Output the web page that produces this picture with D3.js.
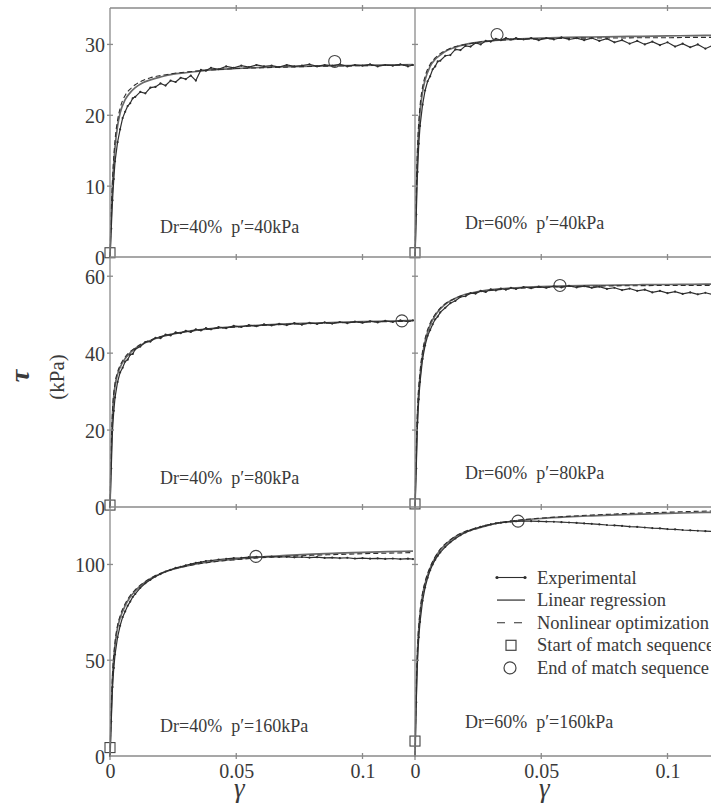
<!DOCTYPE html>
<html>
<head>
<meta charset="utf-8">
<script src="https://cdn.jsdelivr.net/npm/d3@7"></script>
<style>
  html, body { margin: 0; padding: 0; background: #fff; }
  svg { display: block; }
  text { font-family: "Liberation Serif", "Times New Roman", serif; fill: #3a3a3a; }
</style>
</head>
<body>
<script>
// ---- shear strain grid for the fitted curves ----
const fitGamma = [0, 0.0005, 0.001, 0.002, 0.003, 0.004, 0.006, 0.008, 0.01, 0.013, 0.016, 0.02,
  0.025, 0.03, 0.04, 0.05, 0.06, 0.07, 0.08, 0.09, 0.1, 0.11, 0.12];

// ---- shear strain grid for the measured curves ----
const expGamma = [0, 0.0005, 0.001, 0.0015, 0.002, 0.003, 0.004, 0.005, 0.006, 0.007, 0.008, 0.009, 0.010,
  0.012, 0.014, 0.016, 0.018, 0.020, 0.022, 0.024, 0.026, 0.028, 0.030, 0.032, 0.034, 0.036, 0.038, 0.040,
  0.043, 0.046, 0.049, 0.052, 0.055, 0.058, 0.061, 0.064, 0.067, 0.070, 0.073, 0.076, 0.079, 0.082, 0.085,
  0.088, 0.091, 0.094, 0.097, 0.100, 0.103, 0.106, 0.109, 0.112, 0.115, 0.118, 0.120];

// ---- Dr=40%, p'=40kPa ----
const expTauA = [0, 4, 8, 11, 13.5, 16.2, 18.0, 19.6, 20.5, 21.3, 21.7, 22.4, 22.6,
  23.3, 23.1, 23.9, 24.0, 24.5, 24.2, 24.9, 24.7, 25.3, 25.1, 25.6, 24.9, 26.4, 26.3, 26.7,
  26.5, 26.9, 26.7, 27.0, 26.8, 27.1, 26.9, 27.0, 26.8, 27.1, 26.9, 27.0, 27.2, 26.9, 27.1,
  27.0, 27.2, 26.9, 27.1, 27.0, 27.2, 26.9, 27.1, 27.0, 27.2, 26.9, 27.1];
const linTauA = [0, 6, 10, 15.5, 18.5, 20.3, 22.2, 23.2, 23.9, 24.6, 25.0, 25.4, 25.8, 26.0, 26.4, 26.6,
  26.75, 26.85, 26.95, 27.0, 27.05, 27.1, 27.15];
const nlTauA = [0, 6.5, 11, 16.5, 19.3, 21.0, 22.8, 23.7, 24.3, 24.9, 25.3, 25.6, 25.9, 26.1, 26.4, 26.6,
  26.7, 26.8, 26.9, 26.95, 27.0, 27.05, 27.1];

// ---- Dr=60%, p'=40kPa ----
const expTauB = [0, 6, 12, 16, 18.5, 21.5, 23.5, 24.8, 25.5, 26.5, 26.9, 27.6, 27.7,
  28.4, 28.5, 29.3, 29.2, 29.8, 29.7, 30.2, 30.0, 30.5, 30.4, 30.8, 30.6, 30.9, 30.7, 30.9,
  30.7, 30.9, 30.6, 30.9, 30.7, 31.0, 30.7, 30.9, 30.6, 30.9, 30.5, 30.8, 30.3, 30.6, 30.1,
  30.5, 30.0, 30.4, 29.9, 30.3, 29.7, 30.1, 29.6, 30.0, 29.4, 29.9, 29.5];
const linTauB = [0, 9, 14.5, 20.5, 23.3, 25.0, 26.9, 27.9, 28.5, 29.2, 29.6, 30.0, 30.3, 30.5, 30.75,
  30.9, 31.0, 31.05, 31.1, 31.15, 31.2, 31.25, 31.3];
const nlTauB = [0, 9.5, 15.5, 21.3, 24.0, 25.5, 27.2, 28.1, 28.7, 29.3, 29.7, 30.0, 30.3, 30.5, 30.7,
  30.8, 30.85, 30.9, 30.9, 30.95, 30.95, 31.0, 31.0];

// ---- Dr=40%, p'=80kPa ----
const expTauC = [0, 10, 20, 25, 28.5, 32.5, 35.0, 36.2, 37.8, 38.3, 39.6, 39.8, 41.0,
  41.7, 42.9, 43.0, 44.0, 43.9, 44.8, 44.6, 45.4, 45.2, 45.8, 45.5, 46.2, 45.9, 46.5, 46.2,
  46.8, 46.5, 47.1, 46.8, 47.3, 47.0, 47.5, 47.2, 47.6, 47.3, 47.8, 47.4, 47.9, 47.6, 48.0,
  47.7, 48.1, 47.8, 48.2, 47.9, 48.3, 48.0, 48.4, 48.1, 48.5, 48.2, 48.5];
const linTauC = [0, 15, 24, 31.5, 34.5, 36.3, 38.6, 40.1, 41.2, 42.4, 43.3, 44.2, 45.0, 45.6, 46.4,
  46.9, 47.3, 47.6, 47.8, 48.0, 48.2, 48.35, 48.5];
const nlTauC = [0, 16, 25, 32.2, 35.1, 36.8, 39.0, 40.4, 41.4, 42.6, 43.4, 44.3, 45.0, 45.6, 46.3,
  46.8, 47.2, 47.5, 47.7, 47.9, 48.1, 48.2, 48.3];

// ---- Dr=60%, p'=80kPa ----
const expTauD = [0, 10, 22, 28, 32.5, 38.5, 42.0, 44.5, 46.0, 47.5, 48.8, 49.5, 50.6,
  51.8, 53.0, 53.6, 54.6, 54.8, 55.6, 55.5, 56.2, 55.9, 56.6, 56.3, 56.8, 56.5, 57.0, 56.7,
  57.2, 56.9, 57.3, 57.0, 57.4, 57.1, 57.5, 57.1, 57.4, 57.0, 57.3, 56.7, 57.0, 56.4, 56.8,
  56.2, 56.5, 55.8, 56.2, 55.6, 56.0, 55.4, 55.8, 55.3, 55.7, 55.2, 55.5];
const linTauD = [0, 14, 24, 34, 39.5, 43, 47.3, 49.8, 51.5, 53.2, 54.3, 55.3, 56.0, 56.5, 57.0,
  57.3, 57.5, 57.6, 57.7, 57.8, 57.85, 57.9, 57.95];
const nlTauD = [0, 15, 25.5, 35.2, 40.5, 43.8, 47.8, 50.1, 51.7, 53.3, 54.3, 55.2, 55.9, 56.3, 56.8,
  57.1, 57.3, 57.4, 57.5, 57.55, 57.6, 57.6, 57.65];

// ---- Dr=40%, p'=160kPa ----
const expTauE = [0, 18, 36, 46, 53, 62, 68, 72.5, 75.5, 78.4, 80.6, 83.0, 84.6,
  87.8, 90.2, 92.0, 93.7, 95.0, 96.3, 97.2, 98.2, 98.8, 99.6, 100.2, 100.8, 101.2, 101.8, 102.0,
  102.6, 102.9, 103.3, 103.5, 103.8, 104.0, 103.9, 104.1, 103.9, 104.0, 103.7, 103.9, 103.6, 103.8,
  103.4, 103.6, 103.3, 103.5, 103.1, 103.3, 103.0, 103.2, 102.9, 103.1, 102.8, 103.0, 102.8];
const linTauE = [0, 24, 41, 58, 67, 72, 78.5, 83.0, 86.2, 89.8, 92.5, 95.2, 97.5, 99.1, 101.4,
  102.8, 103.9, 104.7, 105.4, 105.9, 106.3, 106.7, 107.0];
const nlTauE = [0, 25, 42.5, 59.5, 68.3, 73.2, 79.5, 83.8, 86.8, 90.2, 92.8, 95.4, 97.6, 99.1, 101.2,
  102.5, 103.5, 104.2, 104.8, 105.2, 105.6, 105.9, 106.2];

// ---- Dr=60%, p'=160kPa ----
const expTauF = [0, 28, 50, 62, 70, 81, 88, 93, 97, 100, 102.5, 104.5, 106.3,
  109.2, 111.6, 113.6, 115.3, 116.7, 117.8, 118.8, 119.6, 120.3, 120.9, 121.4, 121.8, 122.1, 122.4, 122.5,
  122.6, 122.6, 122.5, 122.4, 122.3, 122.1, 121.9, 121.7, 121.4, 121.2, 120.9, 120.6, 120.4, 120.1,
  119.8, 119.6, 119.3, 119.0, 118.8, 118.5, 118.3, 118.0, 117.8, 117.6, 117.4, 117.2, 117.1];
const linTauF = [0, 35, 55, 74, 84, 90, 98, 103.5, 107.5, 111.5, 114.5, 117.0, 119.0, 120.8, 122.8,
  124.0, 124.8, 125.4, 125.9, 126.3, 126.7, 127.0, 127.3];
const nlTauF = [0, 36, 56.5, 75.5, 85.2, 91, 98.7, 104.0, 108.0, 111.9, 114.8, 117.3, 119.3, 121.0,
  123.0, 124.2, 125.1, 125.8, 126.4, 126.9, 127.3, 127.7, 128.0];

// ---- match sequence start / end points [gamma, tau] ----
const startPoints = [[0, 0.6], [0, 0.6], [0, 0.5], [0, 0.8], [0, 4.4], [0, 7.8]];
const endPoints = [[0.089, 27.6], [0.0325, 31.4], [0.1156, 48.4], [0.0574, 57.6], [0.0578, 104.2], [0.0408, 122.6]];

// ---- panel captions and axis ticks ----
const densities = ["Dr=40%", "Dr=60%"];
const pressures = ["p\u2032=40kPa", "p\u2032=80kPa", "p\u2032=160kPa"];
const rowTauMax = [35, 65, 130];
const rowTicks = [[0, 10, 20, 30], [0, 20, 40, 60], [0, 50, 100]];
const xTicks = [0, 0.05, 0.1];
const xTickLabels = ["0", "0.05", "0.1"];
const legendLabels = ["Experimental", "Linear regression", "Nonlinear optimization",
  "Start of match sequence", "End of match sequence"];

// ---- layout ----
const W = 711, H = 811;
const colX = [[110, 413], [415, 718]];
const rowY = [[257, 9], [507, 257], [756, 507]];
const frameTop = 8, leftX = 110, midX = 415, rightEdge = W;
const axisColor = "#8a8a8a";
const lineColor = "#2e2e2e";
const markColor = "#444";

const svg = d3.select("body").append("svg").attr("width", W).attr("height", H);
svg.append("rect").attr("width", W).attr("height", H).attr("fill", "#fff");

const panelData = [
  { exp: expTauA, lin: linTauA, nl: nlTauA },
  { exp: expTauB, lin: linTauB, nl: nlTauB },
  { exp: expTauC, lin: linTauC, nl: nlTauC },
  { exp: expTauD, lin: linTauD, nl: nlTauD },
  { exp: expTauE, lin: linTauE, nl: nlTauE },
  { exp: expTauF, lin: linTauF, nl: nlTauF }
];

const xScales = colX.map(r => d3.scaleLinear().domain([0, 0.12]).range(r));
const yScales = rowY.map((r, i) => d3.scaleLinear().domain([0, rowTauMax[i]]).range(r));

const defs = svg.append("defs");
const labelBase = [[233, 229], [484, 479], [732, 728]];

panelData.forEach((p, k) => {
  const row = Math.floor(k / 2), col = k % 2;
  const x = xScales[col], y = yScales[row];
  const clipId = "clip" + k;
  defs.append("clipPath").attr("id", clipId).append("rect")
    .attr("x", colX[col][0] - 2).attr("y", rowY[row][1] - 2)
    .attr("width", colX[col][1] - colX[col][0] + 4)
    .attr("height", rowY[row][0] - rowY[row][1] + 4);
  const g = svg.append("g").attr("clip-path", `url(#${clipId})`);

  const fitLine = d3.line().x((d, i) => x(fitGamma[i])).y(d => y(d)).curve(d3.curveMonotoneX);
  const expLine = d3.line().x((d, i) => x(expGamma[i])).y(d => y(d));

  g.append("path").attr("d", fitLine(p.lin)).attr("fill", "none")
    .attr("stroke", "#6a6a6a").attr("stroke-width", 1.7);
  g.append("path").attr("d", fitLine(p.nl)).attr("fill", "none")
    .attr("stroke", lineColor).attr("stroke-width", 1.1).attr("stroke-dasharray", "5,3");
  g.append("path").attr("d", expLine(p.exp)).attr("fill", "none")
    .attr("stroke", lineColor).attr("stroke-width", 1.2);
  g.selectAll("circle.pt").data(p.exp).join("circle").attr("class", "pt")
    .attr("cx", (d, i) => x(expGamma[i])).attr("cy", d => y(d)).attr("r", 1.1)
    .attr("fill", lineColor);

  // start and end of match sequence
  const s = startPoints[k], e = endPoints[k];
  svg.append("rect").attr("x", x(s[0]) - 5).attr("y", y(s[1]) - 5).attr("width", 10).attr("height", 10)
    .attr("fill", "none").attr("stroke", markColor).attr("stroke-width", 1.1);
  svg.append("circle").attr("cx", x(e[0])).attr("cy", y(e[1])).attr("r", 6)
    .attr("fill", "none").attr("stroke", markColor).attr("stroke-width", 1.1);

  // caption
  svg.append("text").attr("x", col === 0 ? 160 : 465).attr("y", labelBase[row][col])
    .attr("font-size", 18).style("white-space", "pre")
    .text(densities[col] + "  " + pressures[row]);
});

// ---- frame lines ----
const frame = svg.append("g").attr("stroke", axisColor).attr("stroke-width", 1.3).attr("fill", "none");
[frameTop, rowY[0][0], rowY[1][0], rowY[2][0]].forEach(yy => {
  frame.append("line").attr("x1", leftX).attr("x2", rightEdge).attr("y1", yy).attr("y2", yy);
});
[leftX, midX].forEach(xx => {
  frame.append("line").attr("x1", xx).attr("x2", xx).attr("y1", frameTop).attr("y2", 760);
});

// x ticks on every horizontal frame line
[frameTop, rowY[0][0], rowY[1][0], rowY[2][0]].forEach(yy => {
  xScales.forEach(xs => {
    xTicks.filter(t => t > 0).forEach(t => {
      frame.append("line").attr("x1", xs(t)).attr("x2", xs(t)).attr("y1", yy - 3).attr("y2", yy + 3);
    });
  });
});
// y ticks on both vertical axes
yScales.forEach((ys, r) => {
  rowTicks[r].filter(t => t > 0).forEach(t => {
    [leftX, midX].forEach(xx => {
      frame.append("line").attr("x1", xx - 3).attr("x2", xx + 3).attr("y1", ys(t)).attr("y2", ys(t));
    });
  });
});

// ---- y tick labels via d3 axes ----
yScales.forEach((ys, r) => {
  const ax = svg.append("g").attr("transform", `translate(${leftX},0)`)
    .call(d3.axisLeft(ys).tickValues(rowTicks[r]).tickSize(0).tickPadding(5));
  ax.select(".domain").remove();
  ax.selectAll("text").attr("font-size", 20).attr("font-family", "Liberation Serif, serif")
    .attr("fill", "#3a3a3a").attr("dy", "0.36em");
});

// ---- x tick labels ----
xScales.forEach(xs => {
  const ax = svg.append("g").attr("transform", `translate(0,${rowY[2][0]})`)
    .call(d3.axisBottom(xs).tickValues(xTicks).tickFormat((d, i) => xTickLabels[i]).tickSize(0).tickPadding(8));
  ax.select(".domain").remove();
  ax.selectAll("text").attr("font-size", 20).attr("font-family", "Liberation Serif, serif")
    .attr("fill", "#3a3a3a");
  svg.append("text").attr("x", xs(0.05) + 3).attr("y", 797).attr("text-anchor", "middle")
    .attr("font-size", 27).attr("font-style", "italic").text("\u03b3");
});

// ---- tau axis title ----
svg.append("text").attr("transform", "translate(29,376) rotate(-90)").attr("text-anchor", "middle")
  .attr("font-size", 28).attr("font-style", "italic").attr("font-weight", "bold").text("\u03c4");
svg.append("text").attr("transform", "translate(64,377) rotate(-90)").attr("text-anchor", "middle")
  .attr("font-size", 21).text("(kPa)");

// ---- legend ----
const lg = svg.append("g");
const ly0 = 577.5, ldy = 22.6;
legendLabels.forEach((t, i) => {
  lg.append("text").attr("x", 537).attr("y", ly0 + i * ldy + 6).attr("font-size", 18.5).text(t);
});
// experimental: thin line with end markers
lg.append("line").attr("x1", 497).attr("x2", 525).attr("y1", ly0).attr("y2", ly0)
  .attr("stroke", lineColor).attr("stroke-width", 1.1);
[497, 525].forEach(xx => lg.append("circle").attr("cx", xx).attr("cy", ly0).attr("r", 1.6).attr("fill", lineColor));
// linear regression
lg.append("line").attr("x1", 497).attr("x2", 525).attr("y1", ly0 + ldy).attr("y2", ly0 + ldy)
  .attr("stroke", "#6a6a6a").attr("stroke-width", 1.7);
// nonlinear optimization
lg.append("line").attr("x1", 497).attr("x2", 522).attr("y1", ly0 + 2 * ldy).attr("y2", ly0 + 2 * ldy)
  .attr("stroke", lineColor).attr("stroke-width", 1.1).attr("stroke-dasharray", "8,9");
// start square
lg.append("rect").attr("x", 506).attr("y", ly0 + 3 * ldy - 5).attr("width", 10).attr("height", 10)
  .attr("fill", "none").attr("stroke", markColor).attr("stroke-width", 1.2);
// end circle
lg.append("circle").attr("cx", 510).attr("cy", ly0 + 4 * ldy).attr("r", 6)
  .attr("fill", "none").attr("stroke", markColor).attr("stroke-width", 1.2);
</script>
</body>
</html>
